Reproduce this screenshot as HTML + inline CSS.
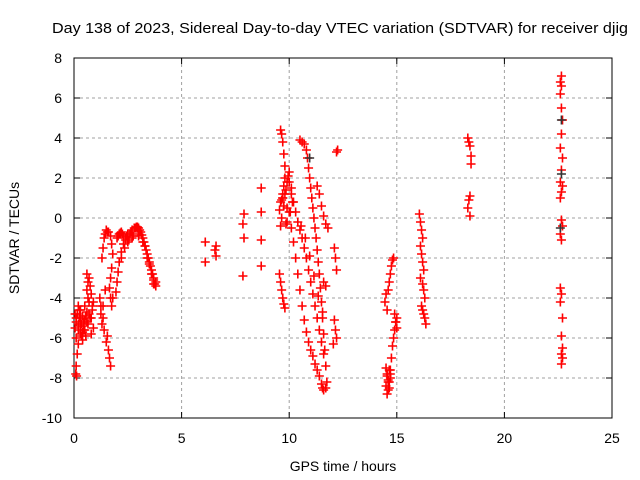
<!DOCTYPE html>
<html><head><meta charset="utf-8"><style>
body{margin:0;background:#fff}
svg{display:block;font-family:"Liberation Sans",Arial,sans-serif}
</style></head><body>
<svg id="chart" width="640" height="480" viewBox="0 0 640 480">
<rect width="640" height="480" fill="#fff"/>
<text x="52" y="33" font-size="14.5" textLength="576" lengthAdjust="spacingAndGlyphs">Day 138 of 2023, Sidereal Day-to-day VTEC variation (SDTVAR) for receiver djig</text>
<g id="grid"></g>
<g id="axes"></g>
<g id="marks"></g>
<text x="343" y="471" font-size="14" text-anchor="middle">GPS time / hours</text>
<text transform="translate(19,238) rotate(-90)" font-size="14" text-anchor="middle">SDTVAR / TECUs</text>
</svg>
<script>
const xTicks=[0,5,10,15,20,25];
const yTicks=[-10,-8,-6,-4,-2,0,2,4,6,8];
const redTimes=[0.05,0.1,0.1,0.15,0.2,0.25,0.3,0.3,0.35,0.4,0.45,0.5,0.5,0.55,0.6,0.6,0.65,0.7,0.7,0.75,0.8,0.85,0.9,0.15,0.1,0.08,0.12,0.2,0.4,0.6,0.65,0.75,0.05,0.2,0.3,0.45,0.55,0.8,0.9,0.35,
0.1,0.2,0.3,0.4,0.5,0.6,0.7,0.8,0.25,0.45,0.65,0.85,
1.2,1.25,1.3,1.35,1.4,1.5,1.6,1.65,1.7,1.55,1.45,1.25,1.35,
1.3,1.35,1.4,1.5,1.6,1.7,1.75,1.8,1.75,1.7,1.65,1.7,1.75,1.8,1.45,1.55,
2.0,2.1,2.2,2.3,2.4,2.5,2.6,2.7,2.8,2.9,3.0,3.1,3.2,3.3,3.4,3.5,3.6,3.7,3.75,3.8,2.05,2.15,2.25,2.45,2.65,2.85,2.95,3.05,3.15,3.25,3.35,3.45,3.55,3.65,
2.55,2.75,3.0,3.3,3.5,3.7,3.8,
1.95,2.0,2.05,2.1,2.2,2.3,2.4,2.2,2.35,2.5,2.7,3.0,3.2,3.4,3.6,3.7,
6.1,6.1,6.6,6.6,6.55,7.85,7.9,7.85,7.9,8.7,8.7,8.7,8.7,
9.6,9.65,9.7,9.75,9.8,9.8,9.75,9.7,9.6,9.55,9.65,9.7,9.85,9.9,9.95,10.0,10.1,10.15,9.6,9.75,9.9,10.05,
9.7,9.8,9.9,10.0,9.65,9.85,
9.55,9.6,9.65,9.7,9.75,9.8,
10.0,10.1,10.2,10.3,10.4,10.5,10.6,10.7,10.8,10.9,11.0,11.1,11.2,11.3,11.4,11.5,11.55,11.6,11.7,
10.5,10.6,10.7,10.8,10.85,10.9,10.95,11.0,11.05,11.1,11.15,11.2,11.25,11.3,11.35,11.4,11.45,11.5,11.55,11.6,11.65,11.7,11.75,
10.1,10.2,10.3,10.4,10.5,10.6,10.7,10.8,10.9,11.0,11.1,11.2,11.3,11.4,11.5,11.6,
10.55,10.75,10.95,11.15,11.35,11.55,
11.3,11.4,11.5,11.6,11.7,11.8,11.6,11.7,
12.2,12.25,12.1,12.15,12.2,12.1,12.15,12.2,12.05,
14.45,14.5,14.55,14.6,14.65,14.7,14.75,14.8,14.85,14.9,14.95,15.0,14.5,14.55,14.6,14.65,14.7,14.5,14.55,14.6,14.65,14.7,14.75,14.8,14.85,14.9,14.95,15.0,
14.55,14.6,14.65,14.7,
16.05,16.1,16.15,16.2,16.1,16.15,16.2,16.25,16.1,16.2,16.25,16.3,16.15,16.2,16.25,16.3,16.35,
18.3,18.35,18.4,18.45,18.45,18.4,18.35,18.3,18.4,
22.65,22.6,22.65,22.6,22.65,22.7,22.65,22.6,22.7,22.65,22.6,22.7,22.65,22.6,22.65,22.7,22.6,22.65,22.6,22.65,22.6,22.7,22.65,22.7,22.65,22.7,22.65];
const redValues=[-5.5,-5.2,-6.0,-4.8,-5.6,-5.0,-4.6,-5.8,-5.3,-4.9,-5.6,-4.4,-5.1,-5.9,-3.6,-4.7,-5.3,-3.0,-4.2,-5.0,-3.8,-4.6,-5.5,-6.8,-7.4,-7.8,-7.9,-6.3,-6.1,-2.8,-3.2,-3.4,-4.8,-4.4,-5.0,-5.2,-4.9,-5.8,-4.2,-5.9,
-5.0,-5.3,-5.4,-5.7,-5.6,-5.2,-4.8,-5.0,-4.6,-5.4,-4.0,-4.4,
-4.0,-4.8,-5.3,-4.4,-5.6,-6.2,-6.6,-7.0,-7.4,-5.9,-3.6,-4.4,-5.0,
-2.0,-1.5,-1.0,-0.6,-0.7,-0.9,-1.3,-1.8,-2.5,-3.0,-3.5,-4.0,-4.4,-4.0,-0.8,-0.7,
-1.0,-0.8,-0.7,-0.9,-1.0,-0.8,-0.8,-0.6,-0.5,-0.45,-0.5,-0.7,-1.0,-1.4,-1.8,-2.2,-2.6,-3.0,-3.3,-3.2,-0.9,-0.75,-0.8,-0.9,-0.7,-0.5,-0.45,-0.6,-0.85,-1.2,-1.6,-2.0,-2.4,-2.8,
-1.1,-0.9,-0.9,-1.4,-2.3,-3.1,-3.4,
-3.7,-3.2,-2.7,-2.2,-1.7,-1.3,-1.1,-2.0,-1.5,-1.2,-1.0,-0.8,-1.2,-2.0,-2.8,-3.3,
-1.2,-2.2,-1.4,-1.9,-1.6,-0.3,0.2,-2.9,-1.0,1.5,0.3,-1.1,-2.4,
4.4,4.2,3.8,3.2,2.6,2.0,1.6,1.2,0.8,0.4,0.0,1.0,1.4,1.8,2.1,2.3,1.5,0.8,-0.4,0.6,-0.2,0.3,
1.0,1.2,0.5,1.8,0.9,-0.3,
-2.8,-3.2,-3.6,-4.0,-4.3,-4.5,
0.3,-0.5,-1.2,-2.0,-2.8,-3.6,-4.4,-5.1,-5.7,-6.2,-6.6,-6.9,-7.3,-7.6,-7.9,-8.3,-8.5,-8.6,-8.5,
3.9,3.8,3.7,3.4,3.0,2.5,2.0,1.5,1.0,0.5,0.0,-0.5,-1.0,-1.6,-2.2,-2.8,-3.5,-4.2,-5.0,-5.8,-6.6,-7.4,-8.2,
1.2,0.8,0.3,-0.2,-0.6,-1.0,-1.5,-2.0,-2.6,-3.2,-3.8,-4.4,-5.0,-5.6,-6.2,-6.8,
-0.4,-1.0,-1.9,-2.9,-3.9,-4.7,
1.6,1.2,0.6,0.1,-0.3,-0.5,-3.2,-3.4,
3.3,3.4,-1.5,-2.0,-2.6,-5.1,-5.6,-6.0,-6.3,
-4.2,-3.8,-4.6,-3.6,-3.2,-2.8,-2.4,-2.1,-2.0,-4.8,-5.2,-5.5,-7.5,-7.8,-8.1,-7.6,-8.0,-8.4,-8.8,-8.6,-8.2,-7.6,-7.0,-6.4,-6.0,-5.6,-5.2,-5.0,
-7.9,-8.2,-8.5,-7.8,
0.2,-0.2,-0.6,-1.0,-1.4,-1.8,-2.2,-2.6,-3.0,-3.3,-3.6,-4.0,-4.4,-4.6,-4.8,-5.0,-5.3,
4.0,3.8,3.6,3.1,2.7,1.1,0.9,0.5,0.1,
7.1,6.8,6.6,6.2,5.5,4.9,4.2,3.5,3.0,2.4,1.8,1.6,1.3,1.0,-0.1,-0.4,-0.8,-1.1,-3.5,-3.8,-4.2,-5.0,-5.9,-6.5,-6.8,-7.0,-7.3];
const blackTimes=[22.65,22.65,22.6,10.95];
const blackValues=[4.9,2.2,-0.5,3.0];

const X0=74,X1=612,Y0=418,Y1=58;
const xs=t=>X0+(t-0)/(25-0)*(X1-X0);
const ys=v=>Y0-(v+10)/(8+10)*(Y0-Y1);
const NS='http://www.w3.org/2000/svg';
function mk(tag,attrs,parent){const e=document.createElementNS(NS,tag);for(const k in attrs)e.setAttribute(k,attrs[k]);parent.appendChild(e);return e;}
const grid=document.getElementById('grid'),axes=document.getElementById('axes'),marks=document.getElementById('marks');
xTicks.forEach(t=>{
  const x=xs(t);
  if(t>0&&t<25){const g=mk('line',{x1:x,x2:x,y1:Y1,y2:Y0,stroke:'#a0a0a0','stroke-dasharray':'3,3'},grid);
  
  }
  mk('line',{x1:x,x2:x,y1:Y0,y2:Y0-6,stroke:'#000'},axes);
  mk('line',{x1:x,x2:x,y1:Y1,y2:Y1+6,stroke:'#000'},axes);
  const l=mk('text',{x:x,y:443,'font-size':14,'text-anchor':'middle'},axes);l.textContent=t;
  
  
});
yTicks.forEach(v=>{
  const y=ys(v);
  if(v>-10&&v<8){const g=mk('line',{x1:X0,x2:X1,y1:y,y2:y,stroke:'#a0a0a0','stroke-dasharray':'3,3'},grid);
  
  }
  mk('line',{x1:X0,x2:X0+6,y1:y,y2:y,stroke:'#000'},axes);
  mk('line',{x1:X1,x2:X1-6,y1:y,y2:y,stroke:'#000'},axes);
  const l=mk('text',{x:62,y:y+5,'font-size':14,'text-anchor':'end'},axes);l.textContent=v;
  
  
});
const b=mk('rect',{x:X0,y:Y1,width:X1-X0,height:Y0-Y1,fill:'none',stroke:'#000'},axes);


function plus(t,v,c){
  const x=xs(t),y=ys(v);
  const p=mk('path',{d:`M${x-4.5},${y}H${x+4.5}M${x},${y-4.5}V${y+4.5}`,stroke:c,'stroke-width':1.6,fill:'none'},marks);
  
  
}
redTimes.forEach((t,i)=>plus(t,redValues[i],'#ff0000'));
blackTimes.forEach((t,i)=>plus(t,blackValues[i],'#333'));
</script>
</body></html>
